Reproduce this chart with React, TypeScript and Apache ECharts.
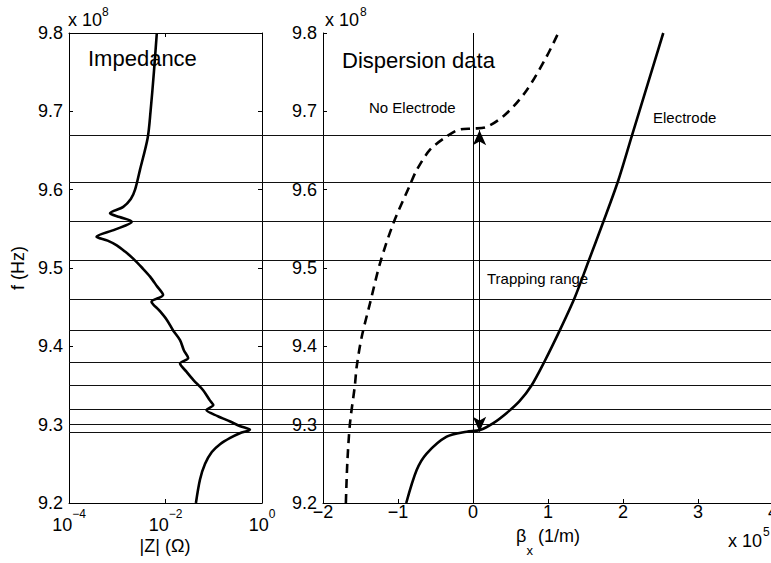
import React, { useEffect, useRef } from "react";
import * as echarts from "echarts";

// Frequencies in units of 1e8 Hz
const resonanceLines = [9.2935, 9.305, 9.324, 9.35, 9.382, 9.42, 9.463, 9.51, 9.56, 9.6132, 9.6663];

// Impedance curve: frequency (x1e8 Hz) and |Z| (ohm)
const impFreq = [
  9.2, 9.23, 9.25, 9.265, 9.275, 9.283, 9.289, 9.2935, 9.298, 9.304, 9.311, 9.3187, 9.325, 9.331,
  9.344, 9.357, 9.368, 9.378, 9.385, 9.395, 9.408, 9.42, 9.434, 9.446, 9.457, 9.4655, 9.477, 9.489,
  9.5, 9.512, 9.521, 9.529, 9.535, 9.54, 9.549, 9.559, 9.565, 9.57, 9.578, 9.588, 9.6, 9.625, 9.666,
  9.7, 9.75, 9.8,
];
const impMag = [
  0.0427, 0.0519, 0.0661, 0.0912, 0.135, 0.219, 0.347, 0.562, 0.355, 0.219, 0.12, 0.0708, 0.0977, 0.0832,
  0.0603, 0.038, 0.0269, 0.02, 0.0295, 0.024, 0.02, 0.0145, 0.0106, 0.00741, 0.00513, 0.00891, 0.00661, 0.00479,
  0.00331, 0.00214, 0.00145, 0.000977, 0.000631, 0.000372, 0.000891, 0.002, 0.00112, 0.000708, 0.00133, 0.00191, 0.00234, 0.00295, 0.00427,
  0.0049, 0.00575, 0.00661,
];

// Dispersion: beta_x (x1e5 1/m) vs frequency (x1e8 Hz)
const noElecFreq = [9.2, 9.251, 9.302, 9.35, 9.374, 9.412, 9.455, 9.506, 9.557, 9.606, 9.625, 9.651, 9.668, 9.677, 9.678, 9.68, 9.6975, 9.727, 9.77, 9.8];
const noElecBeta = [-1.695, -1.676, -1.64, -1.575, -1.551, -1.484, -1.373, -1.24, -1.062, -0.84, -0.751, -0.573, -0.351, -0.173, 0.004, 0.182, 0.449, 0.716, 0.982, 1.137];

const elecFreq = [9.2, 9.242, 9.263, 9.2846, 9.291, 9.2932, 9.302, 9.315, 9.33, 9.35, 9.38, 9.421, 9.463, 9.508, 9.559, 9.612, 9.668, 9.735, 9.8];
const elecBeta = [-0.89, -0.751, -0.618, -0.351, -0.084, 0.093, 0.271, 0.45, 0.62, 0.78, 0.95, 1.16, 1.36, 1.538, 1.738, 1.938, 2.116, 2.33, 2.537];

const trapBeta = 0.087;
const trapLow = 9.291;
const trapHigh = 9.676;

const freqTicks = { min: 9.2, max: 9.8, interval: 0.1 };
const betaTicks = { min: -2, max: 4, interval: 1 };

const FONT = "'Liberation Sans', Arial, Helvetica, sans-serif";

export default function App() {
  const ref = useRef<HTMLDivElement>(null);
  useEffect(() => {
    if (!ref.current) return;
    const chart = echarts.init(ref.current, undefined, { renderer: "svg" });
    const black = "#000";
    const tickStyle = { show: true, inside: true, length: 4, lineStyle: { color: black, width: 1 } };
    const lineAxis = { show: true, lineStyle: { color: black, width: 1 } };
    const yLabel = {
      show: true,
      color: black,
      fontSize: 18,
      fontFamily: FONT,
      margin: 6,
      formatter: (v: number) => v.toFixed(1),
    };
    const expLabel = (v: number) => {
      const e = Math.round(Math.log10(v));
      return `{b|10}{s|${e < 0 ? "\u2212" + -e : e}}`;
    };
    const hLinesSeries: any = {
      type: "line",
      xAxisIndex: 3,
      yAxisIndex: 3,
      data: [[0.5, 9.5]],
      showSymbol: false,
      lineStyle: { opacity: 0 },
      silent: true,
      z: 1,
      markLine: {
        silent: true,
        symbol: "none",
        label: { show: false },
        lineStyle: { color: "#111", width: 1, type: "solid" },
        data: resonanceLines.map((v) => ({ yAxis: v })),
      },
    };
    const option: any = {
      animation: false,
      textStyle: { fontFamily: FONT },
      grid: [
        { left: 69, top: 33, width: 193, height: 470, outerBoundsMode: "none", containLabel: false },
        { left: 323, top: 33, width: 450, height: 470, outerBoundsMode: "none", containLabel: false },
        { left: 69, top: 33, width: 702, height: 470, outerBoundsMode: "none", containLabel: false },
      ],
      xAxis: [
        {
          gridIndex: 0,
          type: "log",
          logBase: 10,
          min: 0.0001,
          max: 1,
          interval: 2,
          position: "bottom",
          axisLine: lineAxis,
          axisTick: tickStyle,
          splitLine: { show: false },
          minorTick: { show: false },
          axisLabel: {
            show: true,
            color: black,
            margin: 5,
            showMinLabel: true,
            showMaxLabel: true,
            formatter: expLabel,
            rich: {
              b: { fontSize: 18, fontFamily: FONT, color: black, lineHeight: 26, verticalAlign: "bottom" },
              s: { fontSize: 12, fontFamily: FONT, color: black, lineHeight: 12, verticalAlign: "top" },
            },
          },
        },
        {
          gridIndex: 0,
          type: "log",
          logBase: 10,
          min: 0.0001,
          max: 1,
          interval: 2,
          position: "top",
          axisLine: lineAxis,
          axisTick: tickStyle,
          axisLabel: { show: false },
          splitLine: { show: false },
        },
        {
          gridIndex: 1,
          type: "value",
          ...betaTicks,
          position: "bottom",
          axisLine: { ...lineAxis, onZero: false },
          axisTick: tickStyle,
          splitLine: { show: false },
          axisLabel: {
            show: true,
            color: black,
            fontSize: 18,
            fontFamily: FONT,
            margin: 0,
            showMaxLabel: true,
            formatter: (v: number) => (v < 0 ? "\u2212" + -v : String(v)),
          },
        },
        { gridIndex: 2, type: "value", min: 0, max: 1, show: false },
      ],
      yAxis: [
        {
          gridIndex: 0,
          type: "value",
          ...freqTicks,
          position: "left",
          axisLine: lineAxis,
          axisTick: tickStyle,
          splitLine: { show: false },
          axisLabel: yLabel,
        },
        {
          gridIndex: 0,
          type: "value",
          ...freqTicks,
          position: "right",
          axisLine: lineAxis,
          axisTick: tickStyle,
          splitLine: { show: false },
          axisLabel: { show: false },
        },
        {
          gridIndex: 1,
          type: "value",
          ...freqTicks,
          position: "left",
          axisLine: { ...lineAxis, onZero: false },
          axisTick: tickStyle,
          splitLine: { show: false },
          axisLabel: yLabel,
        },
        { gridIndex: 2, type: "value", ...freqTicks, show: false },
      ],
      series: [
        hLinesSeries,
        {
          type: "line",
          name: "Impedance",
          xAxisIndex: 0,
          yAxisIndex: 0,
          data: impMag.map((z, i) => [z, impFreq[i]]),
          showSymbol: false,
          smooth: 0.3,
          lineStyle: { color: black, width: 2.6 },
          z: 5,
        },
        {
          type: "line",
          name: "No Electrode",
          xAxisIndex: 2,
          yAxisIndex: 2,
          data: noElecBeta.map((b, i) => [b, noElecFreq[i]]),
          showSymbol: false,
          smooth: 0.3,
          lineStyle: { color: black, width: 2.6, type: [9, 6] },
          z: 5,
        },
        {
          type: "line",
          name: "Electrode",
          xAxisIndex: 2,
          yAxisIndex: 2,
          data: elecBeta.map((b, i) => [b, elecFreq[i]]),
          showSymbol: false,
          smooth: 0.3,
          lineStyle: { color: black, width: 2.6 },
          z: 5,
        },
        {
          type: "line",
          xAxisIndex: 2,
          yAxisIndex: 2,
          data: [],
          showSymbol: false,
          z: 3,
          markLine: {
            silent: true,
            symbol: "none",
            label: { show: false },
            lineStyle: { color: black, width: 1, type: "solid" },
            data: [{ xAxis: 0 }],
          },
        },
        {
          type: "line",
          xAxisIndex: 2,
          yAxisIndex: 2,
          data: [],
          showSymbol: false,
          z: 4,
          markLine: {
            silent: true,
            symbol: ["arrow", "arrow"],
            symbolSize: [10, 15],
            label: { show: false },
            lineStyle: { color: black, width: 1, type: "solid" },
            itemStyle: { color: black },
            data: [[{ coord: [trapBeta, trapLow] }, { coord: [trapBeta, trapHigh] }]],
          },
        },
      ],
      graphic: [
        { type: "text", x: 88, y: 58, style: { text: "Impedance", fontSize: 22, fontFamily: FONT, fill: black, align: "left", verticalAlign: "middle" } },
        { type: "text", x: 342, y: 60, style: { text: "Dispersion data", fontSize: 22, fontFamily: FONT, fill: black, align: "left", verticalAlign: "middle" } },
        { type: "text", x: 369, y: 107, style: { text: "No Electrode", fontSize: 15, fontFamily: FONT, fill: black, align: "left", verticalAlign: "middle" } },
        { type: "text", x: 653, y: 117, style: { text: "Electrode", fontSize: 15, fontFamily: FONT, fill: black, align: "left", verticalAlign: "middle" } },
        { type: "text", x: 487, y: 278, style: { text: "Trapping range", fontSize: 15, fontFamily: FONT, fill: black, align: "left", verticalAlign: "middle" } },
        { type: "text", x: 68, y: 20, style: { text: "x 10", fontSize: 18, fontFamily: FONT, fill: black, align: "left", verticalAlign: "middle" } },
        { type: "text", x: 102, y: 12, style: { text: "8", fontSize: 12, fontFamily: FONT, fill: black, align: "left", verticalAlign: "middle" } },
        { type: "text", x: 325, y: 20, style: { text: "x 10", fontSize: 18, fontFamily: FONT, fill: black, align: "left", verticalAlign: "middle" } },
        { type: "text", x: 360, y: 12, style: { text: "8", fontSize: 12, fontFamily: FONT, fill: black, align: "left", verticalAlign: "middle" } },
        { type: "text", x: 728, y: 541, style: { text: "x 10", fontSize: 18, fontFamily: FONT, fill: black, align: "left", verticalAlign: "middle" } },
        { type: "text", x: 763, y: 532, style: { text: "5", fontSize: 12, fontFamily: FONT, fill: black, align: "left", verticalAlign: "middle" } },
        { type: "text", x: 18, y: 268, rotation: Math.PI / 2, style: { text: "f (Hz)", fontSize: 18, fontFamily: FONT, fill: black, align: "center", verticalAlign: "middle" } },
        { type: "text", x: 165, y: 546, style: { text: "|Z| (\u03A9)", fontSize: 18, fontFamily: FONT, fill: black, align: "center", verticalAlign: "middle" } },
        {
          type: "text",
          x: 548,
          y: 542,
          style: {
            text: "{b|\u03B2}{s|x}{b| (1/m)}",
            align: "center",
            verticalAlign: "middle",
            fill: black,
            rich: {
              b: { fontSize: 18, fontFamily: FONT, fill: black, lineHeight: 24, verticalAlign: "top" },
              s: { fontSize: 13, fontFamily: FONT, fill: black, lineHeight: 30, verticalAlign: "bottom" },
            },
          },
        },
      ],
    };
    chart.setOption(option);
    return () => chart.dispose();
  }, []);
  return <div ref={ref} style={{ position: "absolute", left: 0, top: 0, width: 771, height: 563, background: "#fff" }} />;
}
